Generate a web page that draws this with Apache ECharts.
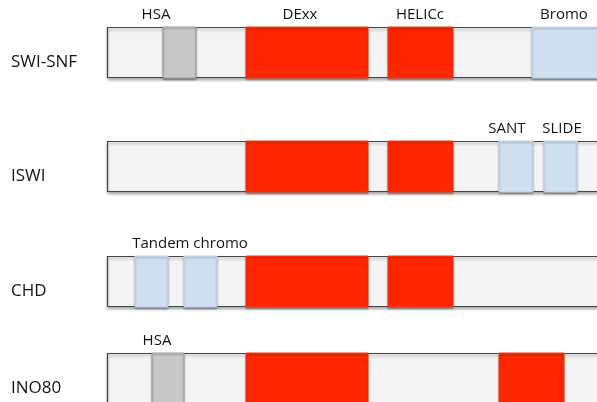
<!DOCTYPE html>
<html><head><meta charset="utf-8">
<script src="https://cdn.jsdelivr.net/npm/echarts@6/dist/echarts.min.js"></script>
<style>html,body{margin:0;padding:0;background:#fff}#c{width:597px;height:402px}</style>
</head><body><div id="c"></div>
<script>
// Rows (protein families) and their track positions
const rowNames = ['SWI-SNF', 'ISWI', 'CHD', 'INO80'];
const rowTrack = [0, 1, 2, 2.85];
const rowLength = [520, 520, 520, 520];

// Domains
const domainRow   = [0, 0, 0, 0,   1, 1, 1, 1,   2, 2, 2, 2,   3, 3, 3];
const domainStart = [56, 139, 281, 425,   139, 281, 392, 437,   28, 77, 139, 281,   45, 139, 392];
const domainEnd   = [89, 261, 346, 500,   261, 346, 426, 470,   61, 110, 261, 346,   77, 261, 457];
const domainType  = ['hsa', 'atpase', 'atpase', 'reader',
                     'atpase', 'atpase', 'reader', 'reader',
                     'reader', 'reader', 'atpase', 'atpase',
                     'hsa', 'atpase', 'atpase'];
const domainLabel = ['HSA', 'DExx', 'HELICc', 'Bromo',
                     '', '', 'SANT', 'SLIDE',
                     'Tandem chromo', '', '', '',
                     'HSA', '', ''];
const labelAt     = [49, 193, 313, 457,   0, 0, 400, 455,   83, 0, 0, 0,   50, 0, 0];

const typeStyle = {
  hsa:    { fill: '#c8c8c8', stroke: '#9c9c9c' },
  atpase: { fill: '#ff2600', stroke: '#f23a1a' },
  reader: { fill: '#cfdff0', stroke: '#c3d3e4' }
};
const BAR_H = 50;
const FONT = '"Open Sans", "Liberation Sans", sans-serif';

const backboneData = rowNames.map((n, i) => [i, rowTrack[i], rowLength[i]]);
const domainData = domainRow.map((r, i) => [rowTrack[r], domainStart[i], domainEnd[i], labelAt[i]]);

function renderBackbone(params, api) {
  const i = params.dataIndex;
  const t = api.value(1), e = api.value(2);
  const p0 = api.coord([0, t]);
  const p1 = api.coord([e, t]);
  return {
    type: 'group',
    children: [
      { type: 'rect',
        shape: { x: Math.round(p0[0]) + 0.5, y: Math.round(p0[1] - BAR_H / 2) + 0.5, width: p1[0] - p0[0], height: BAR_H },
        style: { fill: '#f4f4f4', stroke: '#454545', lineWidth: 1.2,
                 shadowBlur: 3, shadowOffsetY: 2, shadowColor: 'rgba(0,0,0,0.35)' } },
      { type: 'text',
        style: { text: rowNames[i], x: 11, y: p0[1] + 10, align: 'left', verticalAlign: 'middle',
                 fontSize: 17, fontFamily: FONT, fill: '#151515' } }
    ]
  };
}

function renderDomain(params, api) {
  const i = params.dataIndex;
  const t = api.value(0);
  const a = api.coord([api.value(1), t]);
  const b = api.coord([api.value(2), t]);
  const st = typeStyle[domainType[i]];
  const top = Math.round(a[1] - BAR_H / 2);
  const children = [
    { type: 'rect',
      shape: { x: a[0], y: top, width: b[0] - a[0], height: BAR_H + 1 },
      style: { fill: st.fill, stroke: st.stroke, lineWidth: 1,
               shadowBlur: 2, shadowOffsetY: 1.5, shadowColor: 'rgba(0,0,0,0.28)' } }
  ];
  if (domainLabel[i]) {
    const lp = api.coord([api.value(3), t]);
    children.push({ type: 'text',
      style: { text: domainLabel[i], x: lp[0], y: top - 12, align: 'center', verticalAlign: 'middle',
               fontSize: 15, fontFamily: FONT, fill: '#151515' } });
  }
  return { type: 'group', children };
}

const chart = echarts.init(document.getElementById('c'));
chart.setOption({
  animation: false,
  grid: { left: 107, right: 0, top: 0, bottom: 0 },
  xAxis: { type: 'value', min: 0, max: 490, show: false },
  yAxis: { type: 'value', min: -0.454, max: 3.057, inverse: true, show: false },
  series: [
    { type: 'custom', renderItem: renderBackbone, data: backboneData, encode: { x: 2, y: 1 }, z: 1 },
    { type: 'custom', renderItem: renderDomain, data: domainData, encode: { x: [1, 2], y: 0 }, z: 2 }
  ]
});
</script>
</body></html>
